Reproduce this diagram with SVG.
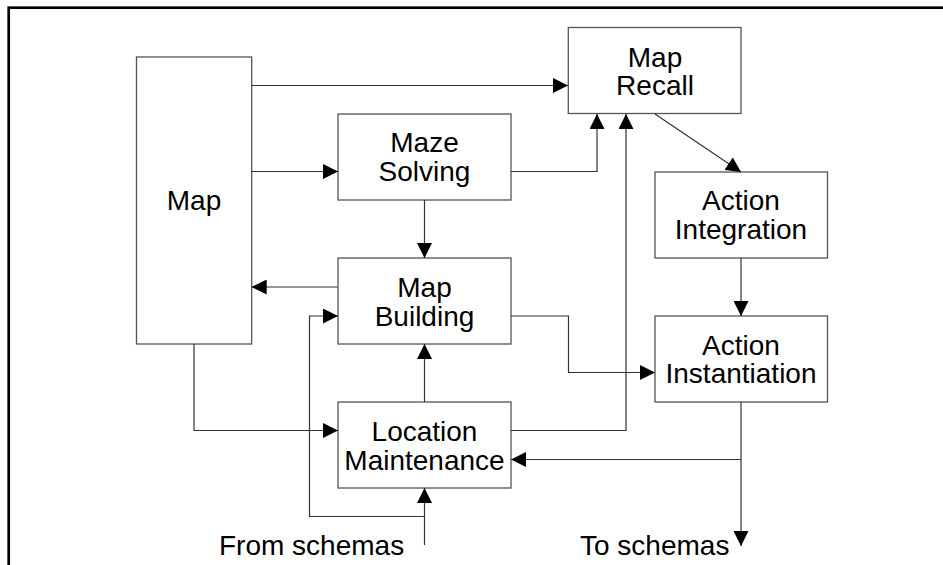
<svg xmlns="http://www.w3.org/2000/svg" width="943" height="565" viewBox="0 0 943 565">
<style>
.box{fill:#fff;stroke:#555;stroke-width:1.3}
.lbl{font-family:"Liberation Sans",Arial,sans-serif;font-size:28px;fill:#000;text-anchor:middle}
.free{font-family:"Liberation Sans",Arial,sans-serif;font-size:28px;fill:#000}
.ln{fill:none;stroke:#333;stroke-width:1.2}
</style>
<defs>
<marker id="ah" markerUnits="userSpaceOnUse" markerWidth="15" markerHeight="15" refX="15" refY="7.5" orient="auto">
<path d="M0,0 L15,7.5 L0,15 z" fill="#000"/>
</marker>
</defs>
<rect x="8.7" y="7.7" width="960" height="620" fill="#fff" stroke="#000" stroke-width="2.7"/>
<g id="map"><rect class="box" x="136.5" y="57" width="115.2" height="287"/><text class="lbl" x="194" y="210">Map</text></g>
<g id="map-recall"><rect class="box" x="568.3" y="27.5" width="172.7" height="86"/><text class="lbl" x="655" y="66.5">Map</text><text class="lbl" x="655" y="95">Recall</text></g>
<g id="maze-solving"><rect class="box" x="338" y="114" width="173" height="86"/><text class="lbl" x="424.5" y="152">Maze</text><text class="lbl" x="424.5" y="181">Solving</text></g>
<g id="map-building"><rect class="box" x="338" y="258" width="173" height="86"/><text class="lbl" x="424.5" y="296.5">Map</text><text class="lbl" x="424.5" y="325.5">Building</text></g>
<g id="location-maintenance"><rect class="box" x="338" y="402" width="173" height="86"/><text class="lbl" x="424.5" y="440.5">Location</text><text class="lbl" x="424.5" y="469.5">Maintenance</text></g>
<g id="action-integration"><rect class="box" x="655" y="172" width="172.5" height="86"/><text class="lbl" x="741" y="210">Action</text><text class="lbl" x="741" y="239">Integration</text></g>
<g id="action-instantiation"><rect class="box" x="655" y="316" width="172.5" height="86"/><text class="lbl" x="741" y="354.5">Action</text><text class="lbl" x="741" y="383">Instantiation</text></g>
<g id="from-schemas"><text class="free" x="219" y="555">From schemas</text></g>
<g id="to-schemas"><text class="free" x="580" y="555">To schemas</text></g>
<g id="connectors">
<path class="ln" d="M251.7,85.5 H568" marker-end="url(#ah)"/>
<path class="ln" d="M251.7,171.5 H338" marker-end="url(#ah)"/>
<path class="ln" d="M511,171.5 H597 V114" marker-end="url(#ah)"/>
<path class="ln" d="M511,430.5 H626 V114" marker-end="url(#ah)"/>
<path class="ln" d="M655,114 L741,172" marker-end="url(#ah)"/>
<path class="ln" d="M741,258 V316" marker-end="url(#ah)"/>
<path class="ln" d="M424.5,200 V258" marker-end="url(#ah)"/>
<path class="ln" d="M338,287 H251.7" marker-end="url(#ah)"/>
<path class="ln" d="M424.5,402 V344" marker-end="url(#ah)"/>
<path class="ln" d="M194,344 V430.5 H338" marker-end="url(#ah)"/>
<path class="ln" d="M424.5,545 V488" marker-end="url(#ah)"/>
<path class="ln" d="M424.5,516.5 H309.5 V316 H338" marker-end="url(#ah)"/>
<path class="ln" d="M511,316 H568.5 V372.5 H655" marker-end="url(#ah)"/>
<path class="ln" d="M741,459.5 H511" marker-end="url(#ah)"/>
<path class="ln" d="M741,402 V546" marker-end="url(#ah)"/>
</g>
</svg>
